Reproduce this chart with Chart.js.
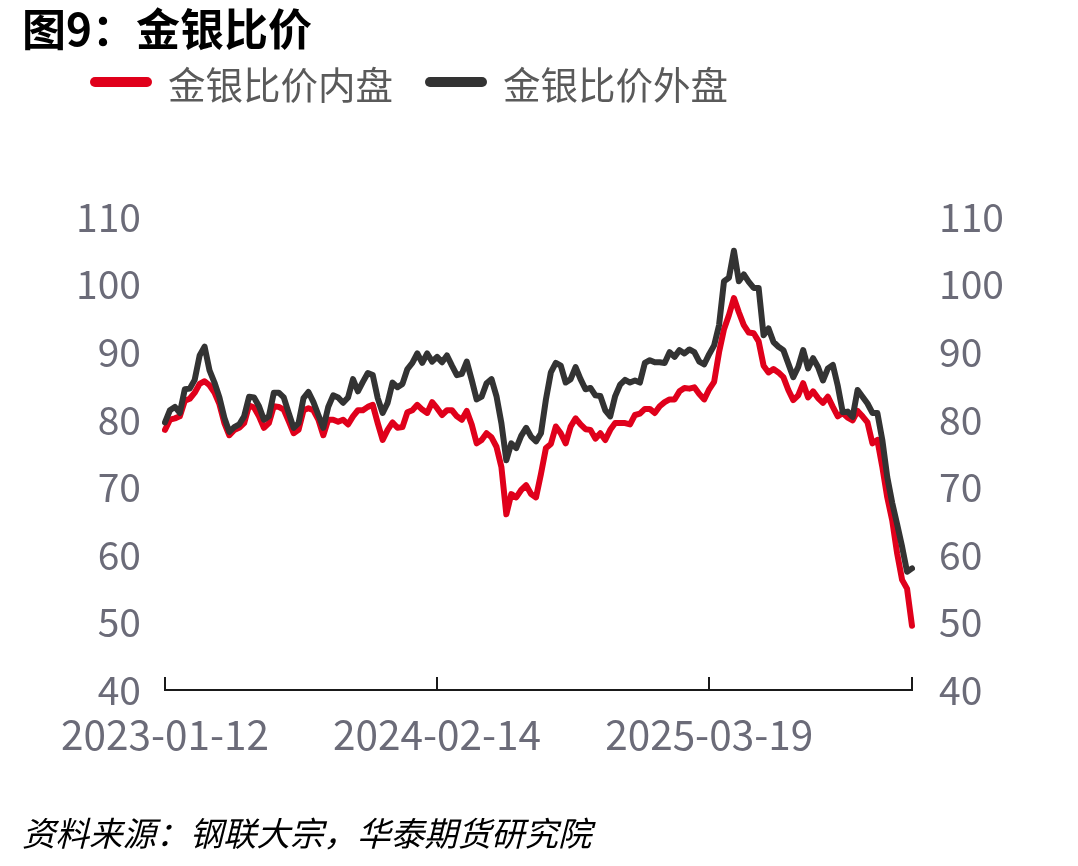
<!DOCTYPE html>
<html><head><meta charset="utf-8">
<script src="https://cdn.jsdelivr.net/npm/chart.js@4.4.1/dist/chart.umd.min.js"></script>
<style>
html,body{margin:0;padding:0;background:#fff;}
#wrap{position:relative;width:1078px;height:866px;overflow:hidden;background:#fff;}
#title{position:absolute;left:22px;top:0px;font-family:"Noto Sans CJK SC";font-weight:bold;font-size:44px;line-height:54px;color:#000;white-space:nowrap;}
.lg{position:absolute;top:57px;height:50px;display:flex;align-items:center;font-family:"Noto Sans CJK SC";font-size:37.5px;color:#5a5a5a;white-space:nowrap;}
.sw{display:inline-block;width:62px;height:10px;border-radius:5px;margin-right:16px;}
#src{position:absolute;left:22px;top:809px;font-family:"Noto Sans CJK SC";font-style:italic;font-size:33.5px;line-height:46px;color:#000;white-space:nowrap;}
#c{position:absolute;left:0;top:0;}
</style></head>
<body><div id="wrap">
<canvas id="c" width="1078" height="866"></canvas>
<div id="title">图9：金银比价</div>
<div class="lg" style="left:90px"><span class="sw" style="background:#e0001b"></span>金银比价内盘</div>
<div class="lg" style="left:425px"><span class="sw" style="background:#333333"></span>金银比价外盘</div>
<div id="src">资料来源：钢联大宗，华泰期货研究院</div>
</div>
<script>
const seriesNames = ['金银比价内盘', '金银比价外盘'];
const innerRatio = [78.5,80,80.2,80.5,82.8,83.1,84,85.3,85.7,85.1,
 84,82.3,79.5,77.7,78.5,78.8,79.5,82.1,81.8,80.5,
 78.8,79.5,82,81.9,81.5,79.8,78,78.5,81.4,81.7,
 81.4,80,77.7,80,80,79.7,80,79.3,80.5,81.4,
 81.4,81.9,82.2,79.5,77,78.5,79.6,78.8,78.9,81.1,
 81.4,82.2,81.5,81,82.6,81.7,80.7,81.4,81.4,80.5,
 80,81.3,79.3,76.5,77,78,77.4,76,73,66,
 69,68.5,69.6,70.3,69,68.5,72,75.8,76.4,79,
 78,76.5,79,80.2,79.3,78.6,78.5,77.2,78,77,
 78.5,79.5,79.5,79.5,79.3,80.7,80.9,81.6,81.6,81,
 82,82.6,83,83,84.2,84.7,84.6,84.8,83.8,83,
 84.5,85.6,90,93.4,95.5,98,95.9,94,92.9,92.8,
 91.6,88,87,87.5,87,86.3,84.4,82.9,83.6,85.4,
 83.3,84.2,83.2,82.5,83.4,81.9,80.5,81,80.3,79.9,
 81.3,80.5,79.6,76.5,77,73,68.5,65.1,60.2,56.3,
 55,49.5];
const outerRatio = [79.6,81.4,81.9,81,84.5,84.6,85.9,89.5,90.8,87.3,
 85.5,83.3,80.3,78.2,78.9,79.3,80.5,83.4,83.3,82,
 80,80.5,84,84,83.3,81,78.8,79.5,83.2,84.1,
 82.6,80.7,78.8,81.9,83.6,83.3,82.5,83.3,86,84.2,
 85.6,86.9,86.6,83.2,81,82.5,85.5,84.8,85.3,87.5,
 88.4,89.8,88.4,89.8,88.6,89.3,88.5,89.5,88,86.6,
 86.8,88.6,85.9,83,83.4,85.4,86,83.5,79.5,74,
 76.5,75.8,77.6,78.8,77.5,76.8,78,83,87,88.4,
 88,85.5,86,87.8,86,84.5,84.7,83.6,83.5,81.4,
 80.5,83.5,85.2,85.9,85.5,85.8,85.5,88.4,88.8,88.5,
 88.5,88.4,90,89.3,90.3,89.8,90.4,90,88.6,88.2,
 89.7,91,94,100.5,101,105,100.5,101.5,100.4,99.5,
 99.5,92.5,93.5,91.5,90.8,90.3,88.3,86.3,87.8,90.3,
 87.6,89.1,87.8,85.8,87.6,88.1,85,81.1,81.2,80.4,
 84.4,83.4,82.4,81,81,77,71.5,67.7,64.5,61.2,
 57.5,58];
const tickIndex = [0, 55, 110, 151];
const tickText = ['2023-01-12', '2024-02-14', '2025-03-19', ''];
const yTicks = [40, 50, 60, 70, 80, 90, 100, 110];

// category labels: observation dates (approx.), one per data point
const categories = [];
{
  const start = new Date(Date.UTC(2023, 0, 12));
  for (let i = 0; i < innerRatio.length; i++) {
    const d = new Date(start.getTime() + Math.round(i * 398 / 55) * 86400000);
    categories.push(d.toISOString().slice(0, 10));
  }
}

const numFont = {family: '"Noto Sans CJK SC"', size: 39};
const xFont = {family: '"Noto Sans CJK SC"', size: 40.5};
const tickColor = '#6b6b78';

const tickMarks = {
  id: 'tickMarks',
  afterDraw(chart) {
    const x = chart.scales.x, ctx = chart.ctx, b = chart.chartArea.bottom;
    ctx.save();
    ctx.strokeStyle = '#1a1a1a';
    ctx.lineWidth = 2;
    tickIndex.forEach(v => {
      const px = Math.round(x.getPixelForValue(v));
      ctx.beginPath();
      ctx.moveTo(px, b);
      ctx.lineTo(px, b - 13);
      ctx.stroke();
    });
    ctx.restore();
  }
};

const yCommon = (pos, w, pad) => ({
  position: pos, min: 40, max: 110,
  afterBuildTicks: ax => { ax.ticks = yTicks.map(v => ({value: v})); },
  ticks: {font: numFont, color: tickColor, padding: pad},
  grid: {display: false, drawTicks: false},
  border: {display: false},
  afterFit: ax => { ax.width = w; }
});

new Chart(document.getElementById('c'), {
  type: 'line',
  data: {
    labels: categories,
    datasets: [
      {label: seriesNames[0], data: innerRatio, borderColor: '#e0001b', borderWidth: 6,
       pointRadius: 0, tension: 0, yAxisID: 'y', order: 1, borderJoinStyle: 'round', borderCapStyle: 'round'},
      {label: seriesNames[1], data: outerRatio, borderColor: '#333333', borderWidth: 6,
       pointRadius: 0, tension: 0, yAxisID: 'y2', order: 0, borderJoinStyle: 'round', borderCapStyle: 'round'}
    ]
  },
  options: {
    responsive: false, animation: false, devicePixelRatio: 1,
    layout: {padding: {top: 217, left: 0, right: 0, bottom: 0}},
    plugins: {legend: {display: false}, tooltip: {enabled: false}},
    scales: {
      x: {
        type: 'category', offset: false,
        afterBuildTicks: ax => { ax.ticks = tickIndex.map(v => ({value: v})); },
        ticks: {autoSkip: false, maxRotation: 0, minRotation: 0, padding: 20, font: xFont, color: tickColor,
                callback: (v) => tickText[tickIndex.indexOf(v)]},
        grid: {display: false, drawTicks: false},
        border: {display: true, color: '#1a1a1a', width: 2},
        afterFit: ax => { ax.height = 866 - 690; }
      },
      y: yCommon('left', 165, 24),
      y2: yCommon('right', 1078 - 912, 27)
    }
  },
  plugins: [tickMarks]
});
</script>
</body></html>
